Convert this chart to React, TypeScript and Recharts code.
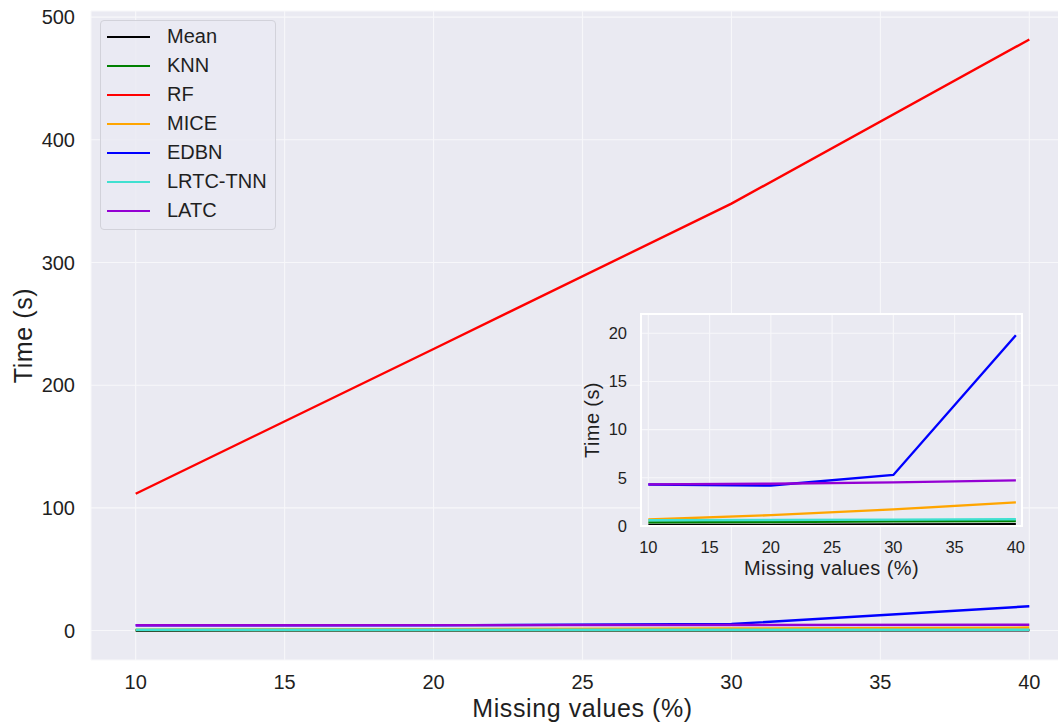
import { LineChart, Line, XAxis, YAxis, CartesianGrid, Legend } from "recharts";

const FONT = '"Liberation Sans", Arial, Helvetica, sans-serif';
const TEXT = "#1f1f1f";

// missing-value rate (%) and run time (s) per imputation method
const missingPct = [10, 20, 30, 40];
const meanTime = [0.1, 0.12, 0.15, 0.18];
const knnTime = [0.38, 0.42, 0.48, 0.52];
const rfTime = [111.5, 229.5, 348, 481.8];
const miceTime = [0.68, 1.13, 1.72, 2.45];
const edbnTime = [4.3, 4.2, 5.3, 19.8];
const lrtcTnnTime = [0.6, 0.62, 0.66, 0.7];
const latcTime = [4.32, 4.39, 4.53, 4.73];

const xTicks = [10, 15, 20, 25, 30, 35, 40];
const mainYTicks = [0, 100, 200, 300, 400, 500];
const insetYTicks = [0, 5, 10, 15, 20];

const methods = [
  { key: "Mean", values: meanTime, color: "#000000" },
  { key: "KNN", values: knnTime, color: "#008000" },
  { key: "RF", values: rfTime, color: "#ff0000" },
  { key: "MICE", values: miceTime, color: "#ffa500" },
  { key: "EDBN", values: edbnTime, color: "#0000ff" },
  { key: "LRTC-TNN", values: lrtcTnnTime, color: "#40e0d0" },
  { key: "LATC", values: latcTime, color: "#9400d3" },
];

const rows = missingPct.map((x, i) => {
  const r: Record<string, number> = { x };
  methods.forEach((m) => (r[m.key] = m.values[i]));
  return r;
});

// the zoomed panel leaves out RF
const insetMethods = methods.filter((m) => m.key !== "RF");

function renderLegend({ payload }: any) {
  const items = methods
    .map((m) => (payload || []).find((p: any) => p.value === m.key))
    .filter(Boolean);
  return (
    <div
      style={{
        width: 176,
        height: 210,
        boxSizing: "border-box",
        border: "1px solid #d2d2da",
        borderRadius: 4,
        background: "rgba(234,234,242,0.8)",
        padding: "1px 0 0 6px",
        fontFamily: FONT,
      }}
    >
      {items.map((p: any) => (
        <div key={p.value} style={{ display: "flex", alignItems: "center", height: 29 }}>
          <span style={{ display: "inline-block", width: 43, height: 2, background: p.color, marginRight: 17 }} />
          <span style={{ fontSize: 20, color: TEXT, lineHeight: "29px" }}>{p.value}</span>
        </div>
      ))}
    </div>
  );
}

const mainXTitle = ({ viewBox }: any) => (
  <text
    x={viewBox.x + viewBox.width / 2}
    y={viewBox.y + 57}
    textAnchor="middle"
    fontSize={25}
    letterSpacing={0.6}
    fill={TEXT}
    fontFamily={FONT}
  >
    Missing values (%)
  </text>
);

const mainYTitle = ({ viewBox }: any) => (
  <text
    transform={`translate(${viewBox.x + 32}, ${viewBox.y + viewBox.height / 2}) rotate(-90)`}
    textAnchor="middle"
    fontSize={25}
    letterSpacing={0.6}
    fill={TEXT}
    fontFamily={FONT}
  >
    Time (s)
  </text>
);

const insetXTitle = ({ viewBox }: any) => (
  <text
    x={viewBox.x + viewBox.width / 2}
    y={viewBox.y + 49}
    textAnchor="middle"
    fontSize={20}
    letterSpacing={0.4}
    fill={TEXT}
    fontFamily={FONT}
  >
    Missing values (%)
  </text>
);

const insetYTitle = ({ viewBox }: any) => (
  <text
    transform={`translate(${viewBox.x + 19}, ${viewBox.y + viewBox.height / 2}) rotate(-90)`}
    textAnchor="middle"
    fontSize={20}
    letterSpacing={0.4}
    fill={TEXT}
    fontFamily={FONT}
  >
    Time (s)
  </text>
);

export default function App() {
  return (
    <div
      style={{
        position: "absolute",
        left: 0,
        top: 0,
        width: 1058,
        height: 727,
        overflow: "hidden",
        background: "#ffffff",
        fontFamily: FONT,
      }}
    >
      <LineChart width={1074} height={727} data={rows} margin={{ top: 11, right: 0, bottom: 0, left: 0 }}>
        <CartesianGrid fill="#EAEAF2" stroke="#f7f7fa" strokeWidth={1.1} />
        <XAxis
          dataKey="x"
          type="number"
          domain={[8.5, 41.5]}
          ticks={xTicks}
          height={67}
          axisLine={false}
          tickLine={false}
          tickSize={0}
          tickMargin={15}
          tick={{ fontSize: 20, fill: TEXT, fontFamily: FONT }}
          label={{ content: mainXTitle }}
        />
        <YAxis
          type="number"
          domain={[-24, 505]}
          ticks={mainYTicks}
          width={91}
          axisLine={false}
          tickLine={false}
          tickSize={0}
          tickMargin={16}
          tick={{ fontSize: 20, fill: TEXT, fontFamily: FONT }}
          label={{ content: mainYTitle }}
        />
        <Legend
          layout="vertical"
          align="center"
          verticalAlign="middle"
          content={renderLegend}
          wrapperStyle={{ left: 100, top: 20, width: 176, height: 210 }}
        />
        {methods.map((m) => (
          <Line
            key={m.key}
            type="linear"
            dataKey={m.key}
            name={m.key}
            stroke={m.color}
            strokeWidth={2.4}
            dot={false}
            activeDot={false}
            isAnimationActive={false}
          />
        ))}
      </LineChart>

      <div style={{ position: "absolute", left: 580, top: 300, width: 470, height: 290 }}>
        <LineChart width={470} height={290} data={rows} margin={{ top: 14, right: 28, bottom: 0, left: 0 }}>
          <CartesianGrid fill="#EAEAF2" stroke="#f7f7fa" strokeWidth={1.1} />
          <XAxis
            dataKey="x"
            type="number"
            domain={[9.4, 40.5]}
            ticks={xTicks}
            height={64}
            axisLine={false}
            tickLine={false}
            tickSize={0}
            tickMargin={15}
            tick={{ fontSize: 16.5, fill: TEXT, fontFamily: FONT }}
            label={{ content: insetXTitle }}
          />
          <YAxis
            type="number"
            domain={[0, 22]}
            ticks={insetYTicks}
            width={61}
            axisLine={false}
            tickLine={false}
            tickSize={0}
            tickMargin={14}
            tick={{ fontSize: 16.5, fill: TEXT, fontFamily: FONT }}
            label={{ content: insetYTitle }}
          />
          {insetMethods.map((m) => (
            <Line
              key={m.key}
              type="linear"
              dataKey={m.key}
              name={m.key}
              stroke={m.color}
              strokeWidth={2.4}
              dot={false}
              activeDot={false}
              isAnimationActive={false}
            />
          ))}
        </LineChart>
      </div>
      <div
        style={{
          position: "absolute",
          left: 640,
          top: 313,
          width: 383,
          height: 214,
          boxSizing: "border-box",
          border: "2px solid #ffffff",
          pointerEvents: "none",
        }}
      />
    </div>
  );
}
